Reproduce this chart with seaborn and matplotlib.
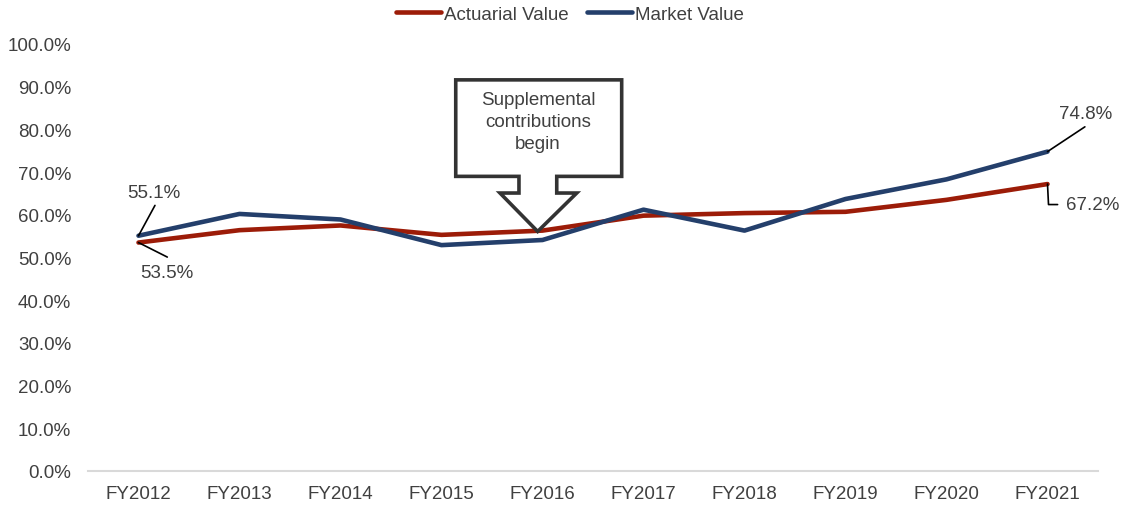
import numpy as np
import pandas as pd
import seaborn as sns
import matplotlib.pyplot as plt
from matplotlib.patches import Polygon

# data
years = ["FY2012", "FY2013", "FY2014", "FY2015", "FY2016",
         "FY2017", "FY2018", "FY2019", "FY2020", "FY2021"]
actuarial = [53.5, 56.4, 57.5, 55.3, 56.3, 59.8, 60.4, 60.7, 63.5, 67.2]
market = [55.1, 60.2, 58.9, 52.9, 54.1, 61.2, 56.3, 63.7, 68.3, 74.8]
y_ticks = np.arange(0, 101, 10)

RED = "#9C1C08"
BLUE = "#243F6B"
TXT = "#404040"
FS = 13.5

sns.set_style("white")
plt.rcParams["font.family"] = ["Liberation Sans", "DejaVu Sans"]

df = pd.DataFrame({
    "year": years * 2,
    "value": actuarial + market,
    "series": ["Actuarial Value"] * len(years) + ["Market Value"] * len(years),
})
df["pos"] = list(range(len(years))) * 2

fig = plt.figure(figsize=(11.24, 5.06), dpi=100)
ax = fig.add_axes([88 / 1124, 1 - 472 / 506, 1010 / 1124, 427 / 506])

sns.lineplot(data=df, x="pos", y="value", hue="series",
             palette=[RED, BLUE], linewidth=3.3, ax=ax, legend=True)

ax.set_xlim(-0.5, len(years) - 0.5)
ax.set_ylim(0, 100)
ax.set_xticks(range(len(years)))
ax.set_xticklabels(years)
ax.set_yticks(y_ticks)
ax.set_yticklabels([f"{v:.1f}%" for v in y_ticks])
ax.tick_params(axis="both", length=0, labelsize=FS, colors=TXT)
ax.tick_params(axis="x", pad=10)
ax.tick_params(axis="y", pad=12)
ax.set_xlabel("")
ax.set_ylabel("")
for s in ["top", "right", "left"]:
    ax.spines[s].set_visible(False)
ax.spines["bottom"].set_color("#D9D9D9")
ax.spines["bottom"].set_linewidth(1.5)

handles, labels = ax.get_legend_handles_labels()
ax.legend(handles, labels, loc="center", bbox_to_anchor=(0.507, 0.970),
          bbox_transform=fig.transFigure, ncol=2, frameon=False,
          fontsize=FS, handlelength=2.4, handletextpad=0.15,
          columnspacing=1.0, labelcolor=TXT)

# end point labels with leader lines
lead = dict(color="black", lw=1.2, zorder=4)
ax.plot([0.0, 0.163], [market[0], 62.2], **lead)
ax.text(0.153, 65.3, f"{market[0]:.1f}%", fontsize=FS, color=TXT,
        ha="center", va="center")
ax.plot([0.0, 0.285], [actuarial[0], 50.1], **lead)
ax.text(0.28, 46.5, f"{actuarial[0]:.1f}%", fontsize=FS, color=TXT,
        ha="center", va="center")
ax.plot([9.0, 9.37], [market[-1], 80.6], **lead)
ax.text(9.38, 83.7, f"{market[-1]:.1f}%", fontsize=FS, color=TXT,
        ha="center", va="center")
ax.plot([9.0, 9.01, 9.1], [actuarial[-1], 62.4, 62.4], **lead)
ax.text(9.18, 62.4, f"{actuarial[-1]:.1f}%", fontsize=FS, color=TXT,
        ha="left", va="center")

# callout box with down arrow
callout = [(3.141, 91.6), (4.784, 91.6), (4.784, 69.0), (4.141, 69.0),
           (4.141, 65.1), (4.339, 65.1), (3.952, 56.1), (3.579, 65.1),
           (3.767, 65.1), (3.767, 69.0), (3.141, 69.0)]
ax.add_patch(Polygon(callout, closed=True, facecolor="white",
                     edgecolor="#333333", lw=2.6, joinstyle="miter", zorder=5))
ax.text(3.955, 81.8, "Supplemental\ncontributions\nbegin", fontsize=FS,
        color=TXT, ha="center", va="center", linespacing=1.38, zorder=6)

fig.savefig("out.png", dpi=100)
